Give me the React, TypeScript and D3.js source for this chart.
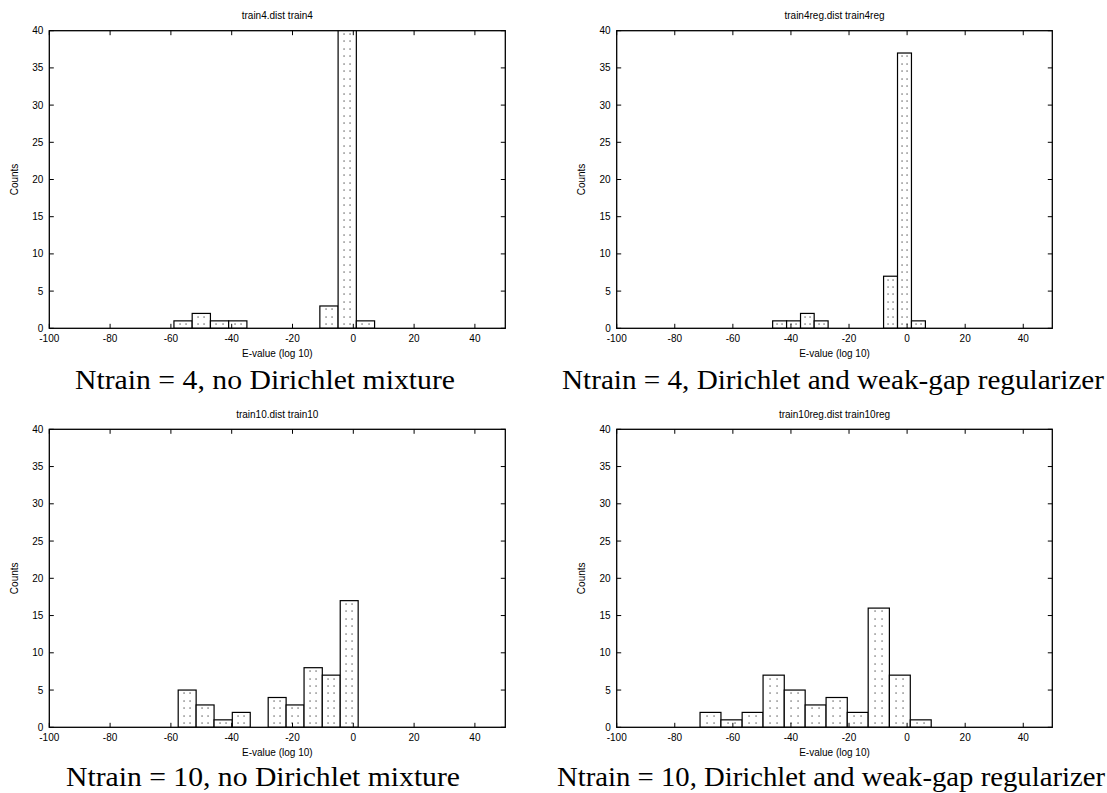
import React from "react";
import * as d3 from "d3";

// ---- data ----
const xTicks = [-100, -80, -60, -40, -20, 0, 20, 40];
const yTicks = [0, 5, 10, 15, 20, 25, 30, 35, 40];

const titles = ["train4.dist train4", "train4reg.dist train4reg", "train10.dist train10", "train10reg.dist train10reg"];
const captions = [
  "Ntrain = 4, no Dirichlet mixture",
  "Ntrain = 4, Dirichlet and weak-gap regularizer",
  "Ntrain = 10, no Dirichlet mixture",
  "Ntrain = 10, Dirichlet and weak-gap regularizer",
];

const edges4 = [-59, -53, -47, -41, -35, -29, -23, -17, -11, -5, 1, 7];
const counts4 = [1, 2, 1, 1, 0, 0, 0, 0, 3, 41, 1];

const edges4reg = [-46.3, -41.5, -36.7, -32.0, -27.2, -22.4, -17.6, -12.9, -8.1, -3.3, 1.5, 6.3];
const counts4reg = [1, 1, 2, 1, 0, 0, 0, 0, 7, 37, 1];

const edges10 = [-57.6, -51.7, -45.8, -39.8, -33.9, -28.0, -22.1, -16.2, -10.2, -4.3, 1.6];
const counts10 = [5, 3, 1, 2, 0, 4, 3, 8, 7, 17];

const edges10reg = [-71.3, -64.1, -56.8, -49.6, -42.3, -35.1, -27.9, -20.6, -13.4, -6.1, 1.1, 8.3];
const counts10reg = [2, 1, 2, 7, 5, 3, 4, 2, 16, 7, 1];

const panels = [
  { edges: edges4, counts: counts4, box: { l: 49.3, r: 505.3, t: 30.7, b: 328.3 }, cap: { x: 75, len: 380, y: 389 } },
  { edges: edges4reg, counts: counts4reg, box: { l: 616.7, r: 1052.3, t: 30.7, b: 328.3 }, cap: { x: 562, len: 542, y: 389 } },
  { edges: edges10, counts: counts10, box: { l: 49.3, r: 505.3, t: 429.3, b: 727.3 }, cap: { x: 66, len: 394, y: 786 } },
  { edges: edges10reg, counts: counts10reg, box: { l: 616.7, r: 1052.3, t: 429.3, b: 727.3 }, cap: { x: 557, len: 548, y: 786 } },
];

const SANS = "'Liberation Sans', Arial, sans-serif";
const SERIF = "'Liberation Serif', 'Times New Roman', serif";

function Panel({ idx }: { idx: number }) {
  const p = panels[idx];
  const { l, r, t, b } = p.box;
  const x = d3.scaleLinear().domain([-100, 50]).range([l, r]);
  const y = d3.scaleLinear().domain([0, 40]).range([b, t]);
  const tick = 4.5;
  const clipId = `clip${idx}`;
  const bars = p.counts.map((c, i) => ({ x0: p.edges[i], x1: p.edges[i + 1], c }));
  return (
    <g>
      <defs>
        <clipPath id={clipId}>
          <rect x={l} y={t} width={r - l} height={b - t} />
        </clipPath>
      </defs>
      <text x={(l + r) / 2} y={t - 11.5} textAnchor="middle" fontFamily={SANS} fontSize={10} fill="#000">
        {titles[idx]}
      </text>
      <g clipPath={`url(#${clipId})`}>
        {bars.filter((d) => d.c > 0).map((d, i) => {
          const bx0 = x(d.x0);
          const bx1 = x(d.x1);
          const dots = [] as any[];
          for (let k = 0; k < d.c; k++) {
            const yy = y(k + 0.55);
            if (yy < t) break;
            [0.33, 0.67].forEach((f, j) => {
              dots.push(
                <rect key={`${k}-${j}`} x={Math.round(bx0 + f * (bx1 - bx0)) - 0.5} y={Math.round(yy) - 0.5} width={1.1} height={1.1} fill="#222" />
              );
            });
          }
          return (
            <g key={i}>
              <rect x={bx0} y={y(d.c)} width={bx1 - bx0} height={b - y(d.c)} fill="#fff" stroke="#000" strokeWidth={1.2} />
              {dots}
            </g>
          );
        })}
      </g>
      {xTicks.map((v) => (
        <g key={`xt${v}`}>
          <line x1={x(v)} x2={x(v)} y1={b} y2={b - tick} stroke="#000" strokeWidth={1} />
          <line x1={x(v)} x2={x(v)} y1={t} y2={t + tick} stroke="#000" strokeWidth={1} />
          <text x={x(v)} y={b + 13.5} textAnchor="middle" fontFamily={SANS} fontSize={10} fill="#000">
            {v}
          </text>
        </g>
      ))}
      {yTicks.map((v) => (
        <g key={`yt${v}`}>
          <line x1={l} x2={l + tick} y1={y(v)} y2={y(v)} stroke="#000" strokeWidth={1} />
          <line x1={r} x2={r - tick} y1={y(v)} y2={y(v)} stroke="#000" strokeWidth={1} />
          <text x={l - 6} y={y(v) + 3.5} textAnchor="end" fontFamily={SANS} fontSize={10} fill="#000">
            {v}
          </text>
        </g>
      ))}
      <rect x={l} y={t} width={r - l} height={b - t} fill="none" stroke="#000" strokeWidth={1.3} />
      <text
        transform={`translate(${l - 31.5},${(t + b) / 2}) rotate(-90)`}
        textAnchor="middle"
        fontFamily={SANS}
        fontSize={10}
        fill="#000"
      >
        Counts
      </text>
      <text x={(l + r) / 2} y={b + 28.5} textAnchor="middle" fontFamily={SANS} fontSize={10} fill="#000">
        E-value (log 10)
      </text>
      <text
        x={p.cap.x}
        y={p.cap.y}
        textLength={p.cap.len}
        lengthAdjust="spacingAndGlyphs"
        fontFamily={SERIF}
        fontSize={28}
        fill="#000"
      >
        {captions[idx]}
      </text>
    </g>
  );
}

export default function App() {
  return (
    <svg
      width={1107}
      height={793}
      viewBox="0 0 1107 793"
      style={{ position: "absolute", left: 0, top: 0, background: "#fff" }}
    >
      <rect x={0} y={0} width={1107} height={793} fill="#fff" />
      {panels.map((_, i) => (
        <Panel key={i} idx={i} />
      ))}
    </svg>
  );
}
